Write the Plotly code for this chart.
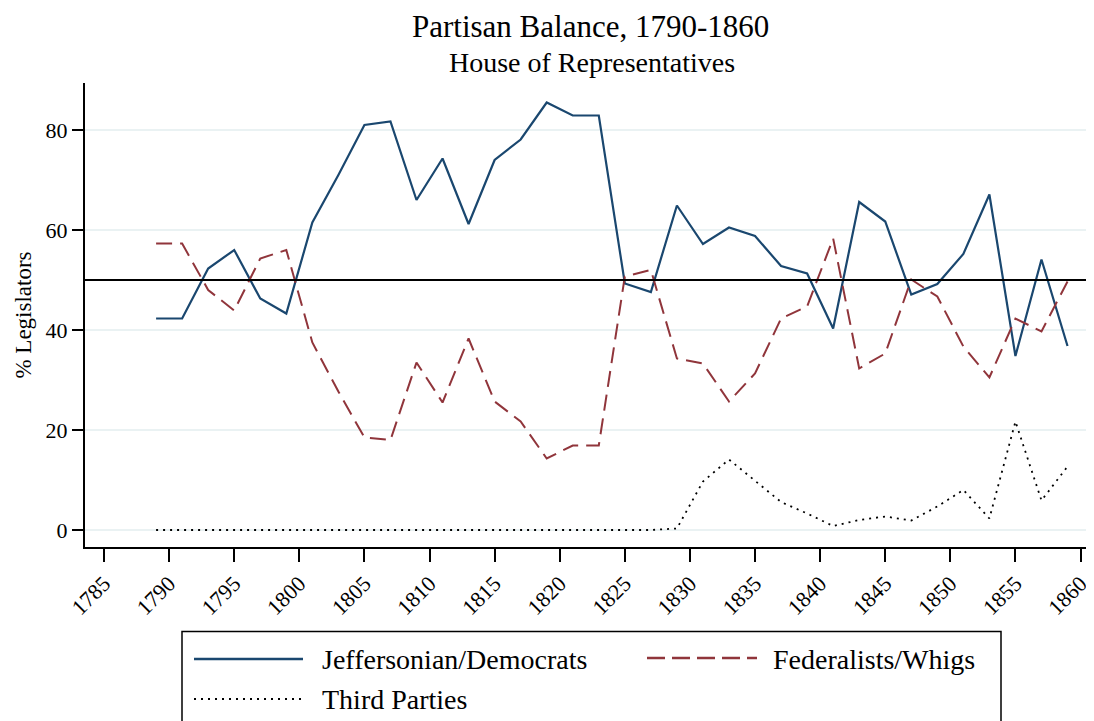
import plotly.graph_objects as go

# ---------------- data ----------------
years = list(range(1789, 1860, 2))

jeffersonian_democrats = [42.3, 42.3, 52.3, 56.0, 46.3, 43.3, 61.5, 71.0, 81.0, 81.7,
                          66.0, 74.3, 61.2, 74.0, 78.1, 85.5, 82.9, 82.9,
                          49.3, 47.6, 64.9, 57.2, 60.5, 58.8, 52.8, 51.3, 40.3,
                          65.6, 61.7, 47.1, 49.2, 55.2, 67.1, 34.8, 54.1, 36.8]

federalists_whigs = [57.3, 57.3, 48.0, 43.9, 54.3, 56.0, 37.5, 27.7, 18.5, 18.0,
                     33.5, 25.5, 38.3, 25.7, 21.7, 14.3, 16.9, 16.9,
                     50.7, 52.0, 34.3, 33.3, 25.7, 31.3, 42.3, 44.7, 58.3,
                     32.3, 35.3, 50.1, 46.7, 36.7, 30.5, 42.3, 39.7, 49.7]

third_parties = [0.0] * 20 + [0.3, 9.7, 14.1, 9.8, 5.6, 3.3, 0.8, 2.0, 2.7, 1.9,
                              4.7, 8.0, 2.3, 21.7, 5.9, 12.7]

x_ticks = list(range(1785, 1861, 5))
y_ticks = [0, 20, 40, 60, 80]
balance_line = 50

title_text = "Partisan Balance, 1790-1860"
subtitle_text = "House of Representatives"
y_title = "% Legislators"
names = ["Jeffersonian/Democrats", "Federalists/Whigs", "Third Parties"]

# ---------------- styling ----------------
FONT = "Liberation Serif, Times New Roman, serif"
NAVY = "#1a476f"
MAROON = "#90353b"
GRID = "#eaf2f3"
OFF = 8  # page body margin
W_FIG, H_FIG = 1094 - OFF, 721 - OFF
# plot area in screen pixels
SX0, SX1, SY0, SY1 = 85, 1092, 83, 547
L = SX0 - OFF
T = SY0 - OFF
R = W_FIG - (SX1 - OFF)
B = H_FIG - (SY1 - OFF)
PW = SX1 - SX0
PH = SY1 - SY0


def px(x):
    return (x - SX0) / PW


def py(y):
    return (SY1 - y) / PH


DASH_RED = "16px,8px"
DOT = "2px,5px"

fig = go.Figure()
fig.add_trace(go.Scatter(x=years, y=jeffersonian_democrats, mode="lines", name=names[0],
                         line=dict(color=NAVY, width=2.2), showlegend=False))
fig.add_trace(go.Scatter(x=years, y=federalists_whigs, mode="lines", name=names[1],
                         line=dict(color=MAROON, width=2, dash=DASH_RED), showlegend=False))
fig.add_trace(go.Scatter(x=years, y=third_parties, mode="lines", name=names[2],
                         line=dict(color="black", width=1.8, dash=DOT), showlegend=False))

shapes = [
    dict(type="line", xref="paper", yref="y", x0=0, x1=1, y0=balance_line, y1=balance_line,
         line=dict(color="black", width=2), layer="above"),
    # legend box
    dict(type="rect", xref="paper", yref="paper", x0=px(182), x1=px(1001), y0=py(631.5), y1=py(760),
         line=dict(color="black", width=1.5), fillcolor="rgba(0,0,0,0)"),
    dict(type="line", xref="paper", yref="paper", x0=px(194), x1=px(303), y0=py(659), y1=py(659),
         line=dict(color=NAVY, width=2.5)),
    dict(type="line", xref="paper", yref="paper", x0=px(647), x1=px(757), y0=py(658), y1=py(658),
         line=dict(color=MAROON, width=2.5, dash="18px,7px")),
    dict(type="line", xref="paper", yref="paper", x0=px(194), x1=px(303), y0=py(699), y1=py(699),
         line=dict(color="black", width=1.8, dash="2px,5px")),
]

annotations = [
    dict(text=title_text, xref="paper", yref="paper", x=px(590), y=py(OFF), xanchor="center",
         yanchor="top", showarrow=False, borderpad=0,
         font=dict(family=FONT, size=31, color="black")),
    dict(text=subtitle_text, xref="paper", yref="paper", x=px(592), y=py(63), xanchor="center",
         yanchor="middle", showarrow=False, font=dict(family=FONT, size=28, color="black")),
    dict(text=names[0], xref="paper", yref="paper", x=px(320), y=py(659), xanchor="left",
         yanchor="middle", showarrow=False, font=dict(family=FONT, size=28, color="black")),
    dict(text=names[1], xref="paper", yref="paper", x=px(771), y=py(659), xanchor="left",
         yanchor="middle", showarrow=False, font=dict(family=FONT, size=28, color="black")),
    dict(text=names[2], xref="paper", yref="paper", x=px(320), y=py(699), xanchor="left",
         yanchor="middle", showarrow=False, font=dict(family=FONT, size=28, color="black")),
]

fig.update_layout(
    width=W_FIG, height=H_FIG,
    margin=dict(l=L, r=R, t=T, b=B, autoexpand=False),
    paper_bgcolor="white", plot_bgcolor="white",
    font=dict(family=FONT, color="black"),
    showlegend=False,
    shapes=shapes,
    annotations=annotations,
    xaxis=dict(range=[1783.54, 1860.88], tickmode="array", tickvals=x_ticks,
               ticktext=[str(v) for v in x_ticks], tickangle=-45,
               ticks="outside", ticklen=13, tickwidth=2, tickcolor="black",
               showline=True, linecolor="black", linewidth=2, showgrid=False, zeroline=False,
               tickfont=dict(family=FONT, size=22, color="black")),
    yaxis=dict(range=[-3.4, 89.4], tickmode="array", tickvals=y_ticks,
               ticktext=[str(v) for v in y_ticks],
               ticks="outside", ticklen=11, tickwidth=2, tickcolor="black",
               showline=True, linecolor="black", linewidth=2,
               showgrid=True, gridcolor=GRID, gridwidth=1.5, zeroline=False,
               tickfont=dict(family=FONT, size=22, color="black"),
               title=dict(text=y_title, standoff=8, font=dict(family=FONT, size=23, color="black"))),
)

fig.write_html("out.html")
